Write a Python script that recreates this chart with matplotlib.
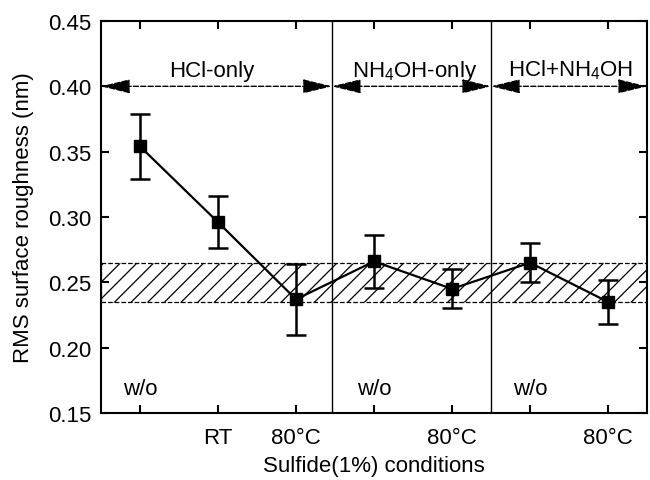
import matplotlib as mpl
import matplotlib.pyplot as plt
import numpy as np

mpl.rcParams.update({
    "font.family": ["Liberation Sans", "DejaVu Sans"],
    "font.size": 16,
    "mathtext.fontset": "custom",
    "mathtext.rm": "Liberation Sans",
    "mathtext.it": "Liberation Sans",
    "hatch.linewidth": 0.9,
})

# ---- data ----
x_pos = [1, 2, 3, 4, 5, 6, 7]
rms = [0.354, 0.296, 0.237, 0.266, 0.245, 0.265, 0.235]
err_hi = [0.379, 0.316, 0.264, 0.286, 0.260, 0.280, 0.252]
err_lo = [0.329, 0.276, 0.210, 0.246, 0.230, 0.250, 0.218]
tick_labels = ["", "RT", "80°C", "", "80°C", "", "80°C"]

groups = ["HCl-only", "NH$_4$OH-only", "HCl+NH$_4$OH"]
group_bounds = [(0.5, 3.46), (3.46, 5.5), (5.5, 7.5)]
group_label_x = [1.92, 4.52, 6.52]
wo_x = [1, 4, 6]

band = (0.235, 0.265)

fig = plt.figure(figsize=(6.5, 4.81), dpi=100)
ax = fig.add_axes([0.1554, 0.1393, 0.9954 - 0.1554, 0.9543 - 0.1393])

# reference band
ax.axhspan(band[0], band[1], facecolor="none", edgecolor="k",
           hatch="//", linestyle="--", linewidth=0.9)

# data
yerr = np.array([np.array(rms) - np.array(err_lo),
                 np.array(err_hi) - np.array(rms)])
ax.errorbar(x_pos, rms, yerr=yerr, fmt="s-", color="k", markersize=8,
            linewidth=1.6, elinewidth=1.8, capsize=7, capthick=1.8)

# group separators
for b in (group_bounds[0][1], group_bounds[1][1]):
    ax.axvline(b, color="k", linewidth=1.0)

# double-headed dashed arrows with group names
for (x0, x1), name, lx in zip(group_bounds, groups, group_label_x):
    ax.annotate("", xy=(x1, 0.40), xytext=(x0, 0.40),
                arrowprops=dict(arrowstyle="<|-|>,head_length=0.9,head_width=0.22",
                                linestyle="--", linewidth=1.0, color="k",
                                mutation_scale=20, shrinkA=0, shrinkB=0))
    ax.text(lx, 0.4081, name, ha="center", va="baseline")

for wx in wo_x:
    ax.text(wx, 0.1646, "w/o", ha="center", va="baseline")

ax.set_xlim(0.5, 7.5)
ax.set_ylim(0.15, 0.45)
ax.set_xticks(x_pos)
ax.set_xticklabels(tick_labels)
ax.set_yticks(np.arange(0.15, 0.451, 0.05))
ax.yaxis.set_major_formatter(mpl.ticker.FormatStrFormatter("%.2f"))
ax.tick_params(direction="in", length=6, width=1.5, top=True, right=True,
               labelsize=16)
ax.tick_params(axis="x", pad=10)
ax.tick_params(axis="y", pad=7)
for s in ax.spines.values():
    s.set_linewidth(1.5)

ax.set_xlabel("Sulfide(1%) conditions", labelpad=5)
ax.set_ylabel("RMS surface roughness (nm)", labelpad=10)

fig.savefig("out.png", dpi=100)
